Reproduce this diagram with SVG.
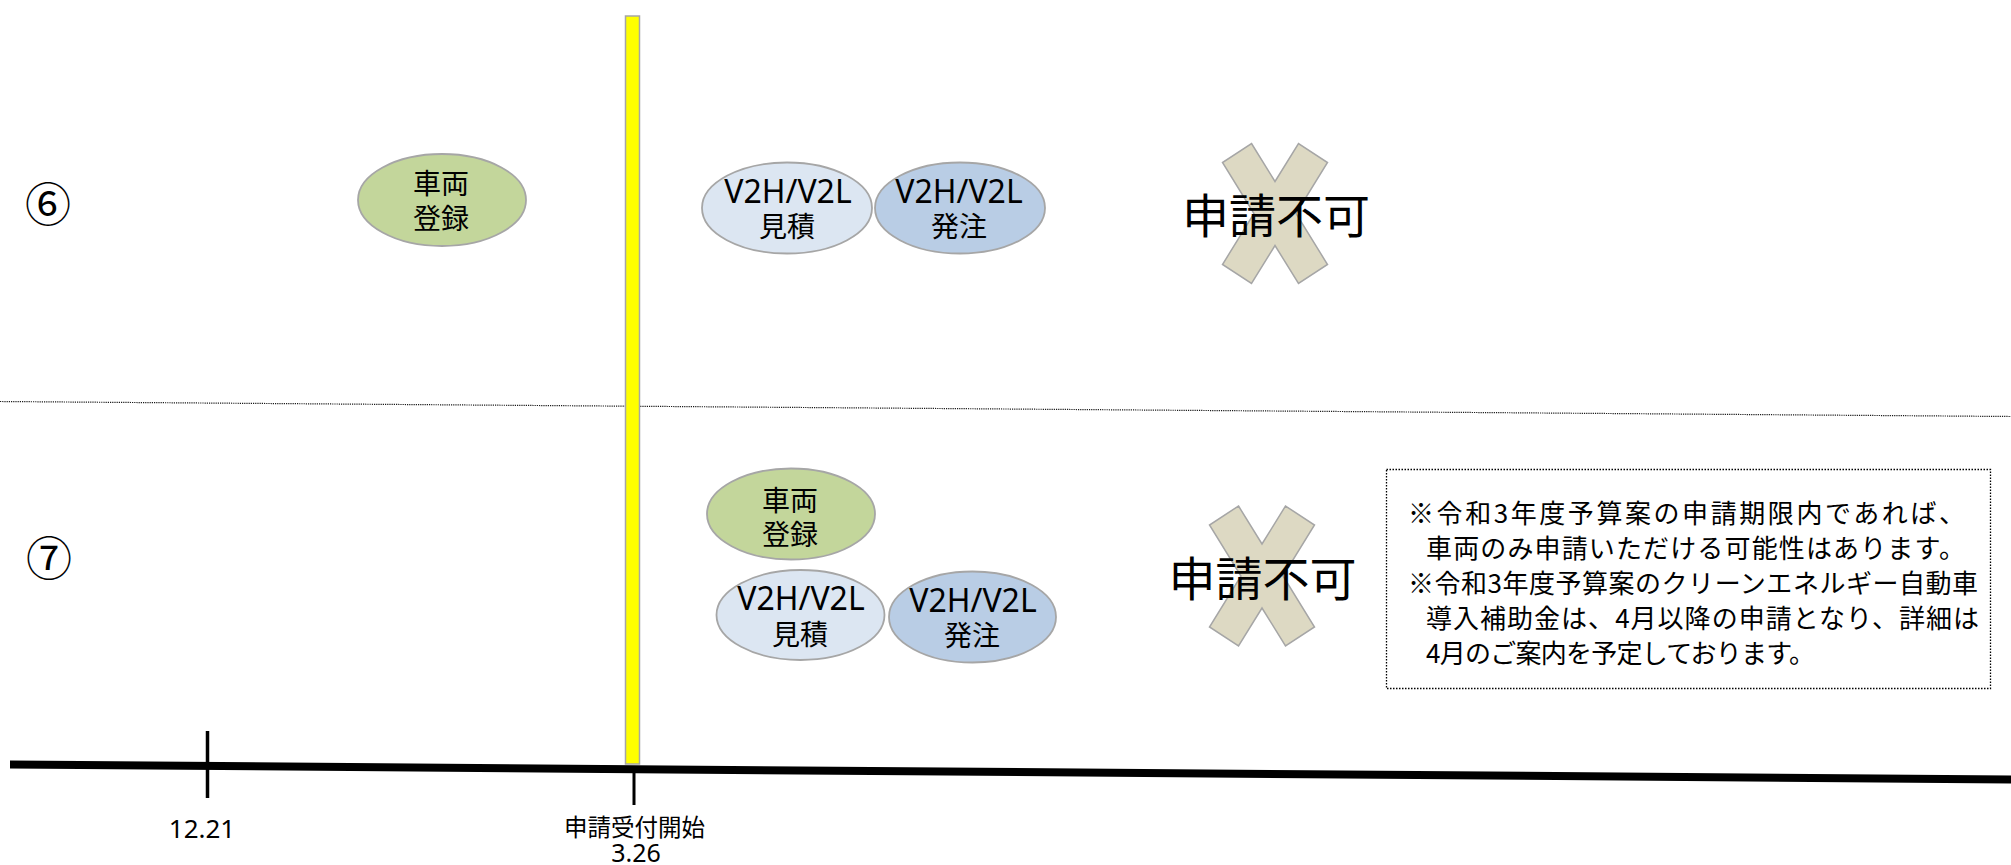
<svg xmlns="http://www.w3.org/2000/svg" xmlns:xlink="http://www.w3.org/1999/xlink" width="2011" height="865" viewBox="0 0 2011 865">
<style>
.jp{font-family:"Noto Sans CJK JP","Noto Sans",sans-serif;fill:#000}
.lat{font-family:"Noto Sans","Noto Sans CJK JP",sans-serif}
.node{stroke:#a6a6a6;stroke-width:1.8}
.green{fill:#c3d69b}
.light{fill:#dce6f2}
.mid{fill:#b9cde5}
.cross{fill:#ddd9c3;stroke:#a6a6a6;stroke-width:1.5}
.lbl{font-size:28px;text-anchor:middle}
.v2{font-size:32px}
.ng{font-size:47px;text-anchor:middle}
.note{font-size:26px}
.num{font-size:46px;text-anchor:middle}
</style>
<defs>
<polygon id="xshape" points="-23.5,-70 0,-32 23.5,-70 52.5,-51 21,0 52.5,51 23.5,70 0,32 -23.5,70 -52.5,51 -21,0 -52.5,-51"/>
</defs>
<rect width="2011" height="865" fill="#fff"/>

<g id="divider">
<line x1="0" y1="401.5" x2="2011" y2="416.5" stroke="#1a1a1a" stroke-width="1.2" stroke-dasharray="1.2 1"/>
</g>

<g id="row-labels">
<text class="jp num" x="48" y="221">⑥</text>
<text class="jp num" x="49" y="575">⑦</text>
</g>

<g id="start-bar">
<rect x="625.5" y="16" width="14" height="748" fill="#ffff00" stroke="#a6a6a6" stroke-width="1.5"/>
</g>

<g id="timeline">
<line x1="10" y1="764.5" x2="2011" y2="779.5" stroke="#000" stroke-width="8"/>
<line x1="207.5" y1="731" x2="207.5" y2="798" stroke="#000" stroke-width="3.5"/>
<line x1="634" y1="766" x2="634" y2="805" stroke="#000" stroke-width="3"/>
<text class="lat" x="202" y="838" font-size="26" text-anchor="middle">12.21</text>
<text class="jp" font-size="23.5" text-anchor="middle"><tspan x="634.5" y="835.5">申請受付開始</tspan><tspan class="lat" x="636" y="862" font-size="25">3.26</tspan></text>
</g>

<g id="r6-vehicle">
<ellipse class="node green" cx="442" cy="200" rx="84" ry="46"/>
<text class="jp lbl"><tspan x="441" y="194">車両</tspan><tspan x="441" y="229">登録</tspan></text>
</g>
<g id="r6-estimate">
<ellipse class="node light" cx="787" cy="208" rx="85" ry="45.5"/>
<text class="jp lbl"><tspan class="lat v2" x="788" y="203">V2H/V2L</tspan><tspan x="787" y="236.5">見積</tspan></text>
</g>
<g id="r6-order">
<ellipse class="node mid" cx="960" cy="208" rx="85" ry="45.5"/>
<text class="jp lbl"><tspan class="lat v2" x="959" y="203">V2H/V2L</tspan><tspan x="959" y="236.5">発注</tspan></text>
</g>
<g id="r6-ng">
<use xlink:href="#xshape" href="#xshape" class="cross" transform="translate(1275,213.5)"/>
<text class="jp ng" x="1276" y="232.5">申請不可</text>
</g>

<g id="r7-vehicle">
<ellipse class="node green" cx="791" cy="514" rx="84" ry="45.5"/>
<text class="jp lbl"><tspan x="790" y="511">車両</tspan><tspan x="790" y="545">登録</tspan></text>
</g>
<g id="r7-estimate">
<ellipse class="node light" cx="800.5" cy="615" rx="84" ry="45"/>
<text class="jp lbl"><tspan class="lat v2" x="801" y="610">V2H/V2L</tspan><tspan x="800" y="644.5">見積</tspan></text>
</g>
<g id="r7-order">
<ellipse class="node mid" cx="972.5" cy="617" rx="83.5" ry="45.5"/>
<text class="jp lbl"><tspan class="lat v2" x="973" y="611.5">V2H/V2L</tspan><tspan x="972" y="646">発注</tspan></text>
</g>
<g id="r7-ng">
<use xlink:href="#xshape" href="#xshape" class="cross" transform="translate(1262,576)"/>
<text class="jp ng" x="1262.5" y="596">申請不可</text>
</g>

<g id="note">
<rect x="1386.5" y="469.5" width="604" height="219" fill="none" stroke="#000" stroke-width="1.3" stroke-dasharray="1.5 1.5"/>
<text class="jp note" x="1408" y="523" textLength="557" lengthAdjust="spacing">※令和3年度予算案の申請期限内であれば、</text>
<text class="jp note" x="1426" y="558" textLength="539" lengthAdjust="spacing">車両のみ申請いただける可能性はあります。</text>
<text class="jp note" x="1408" y="593" textLength="570" lengthAdjust="spacing">※令和3年度予算案のクリーンエネルギー自動車</text>
<text class="jp note" x="1426" y="628" textLength="553" lengthAdjust="spacing">導入補助金は、4月以降の申請となり、詳細は</text>
<text class="jp note" x="1426" y="663" textLength="389" lengthAdjust="spacing">4月のご案内を予定しております。</text>
</g>
</svg>
